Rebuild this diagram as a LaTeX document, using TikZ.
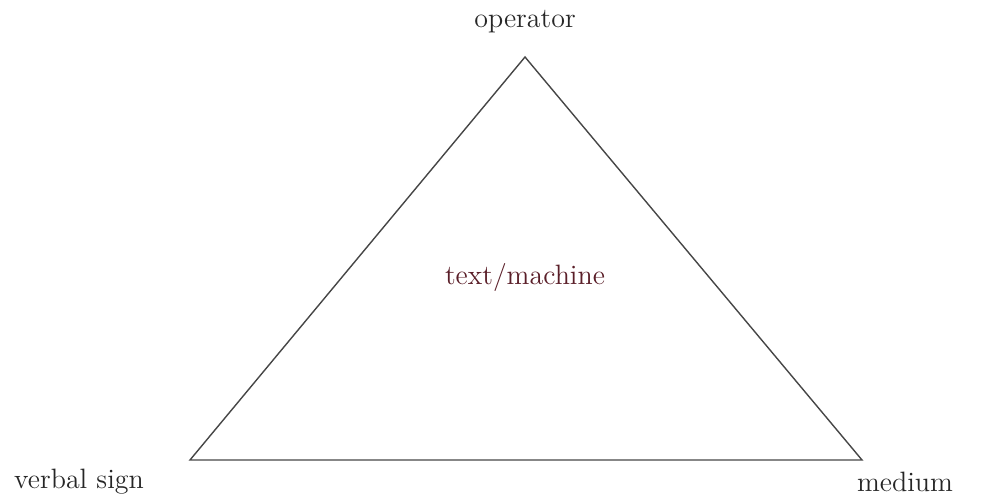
\documentclass[tikz,border=0pt]{standalone}
\usepackage{tikz}
\usetikzlibrary{positioning}
\definecolor{edgegray}{RGB}{70,70,70}
\definecolor{textred}{RGB}{90,30,40}
\tikzset{
  corner/.style={font=\fontsize{14}{17}\selectfont, text=black!85},
  side/.style={edgegray, line width=0.7pt, line join=miter}
}

\begin{document}
\begin{tikzpicture}[x=0.5pt, y=-0.5pt]
\useasboundingbox (0,0) rectangle (992,497);
% corners of the triangle
\coordinate (op) at (525,57);
\coordinate (vs) at (190,460);
\coordinate (me) at (862,460);
% labels
\node[corner] (oplabel) at (525,22) {operator};
\node[corner] (vslabel) at (79,482) {verbal sign};
\node[corner] (melabel) at (905,482) {medium};
\node[corner, text=textred] (centre) at (525,278) {text/machine};
% sides
\draw[side] (op) -- (me) -- (vs) -- cycle;
\end{tikzpicture}
\end{document}
